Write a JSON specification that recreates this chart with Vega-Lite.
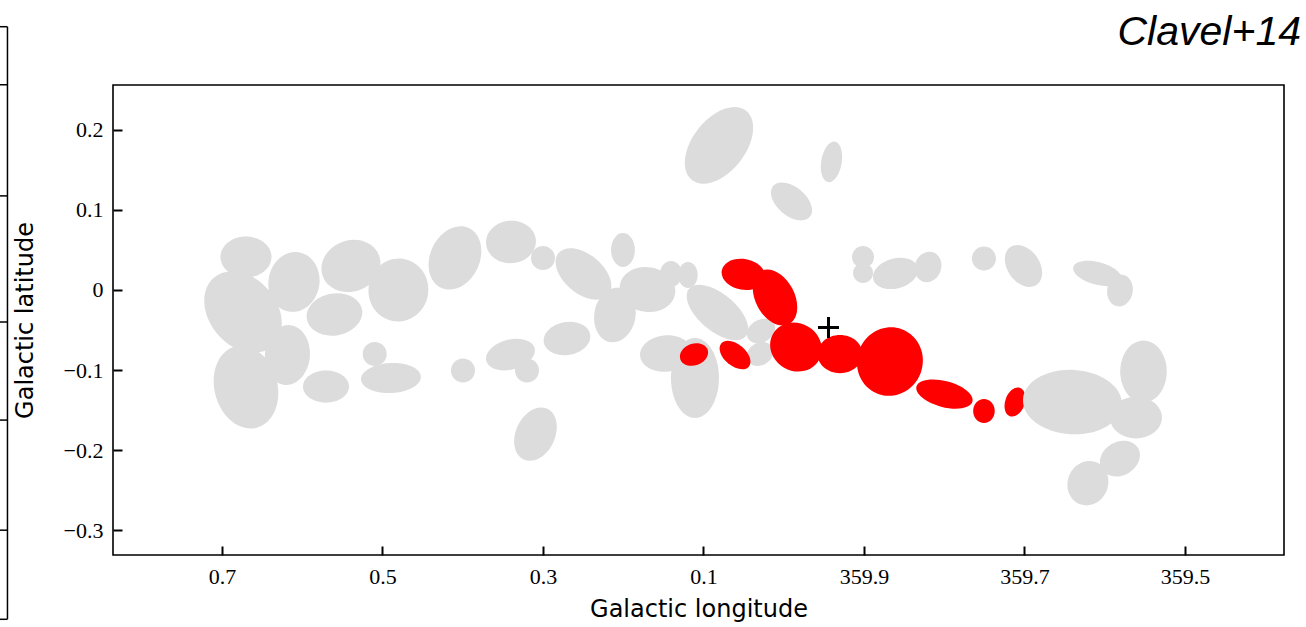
{
  "$schema": "https://vega.github.io/schema/vega-lite/v6.json",
  "width": 1171,
  "height": 470,
  "autosize": "none",
  "padding": {"left": 113, "top": 85, "right": 22, "bottom": 72},
  "background": "white",
  "title": {"text": "Clavel+14", "anchor": "end", "frame": "group", "font": "Liberation Sans", "fontSize": 41, "fontStyle": "italic", "fontWeight": "normal", "color": "black", "baseline": "alphabetic", "offset": -60, "dx": 17},
  "config": {
    "view": {"stroke": "black", "strokeWidth": 1.6},
    "axis": {"domain": false, "grid": false, "tickColor": "black", "tickWidth": 2, "tickSize": -9, "labelColor": "black", "labelFont": "Liberation Serif", "labelFontSize": 22, "titleColor": "black", "titleFont": "DejaVu Sans", "titleFontSize": 24, "titleFontWeight": "normal"}
  },
  "datasets": {
    "grey": [
      {"l": 0.6701, "b": 0.0413, "major": 0.0636, "ratio": 0.8, "tilt": 0},
      {"l": 0.6738, "b": -0.0275, "major": 0.1121, "ratio": 0.75, "tilt": -50},
      {"l": 0.6701, "b": -0.1213, "major": 0.1047, "ratio": 0.75, "tilt": -75},
      {"l": 0.6184, "b": -0.0813, "major": 0.0748, "ratio": 0.75, "tilt": 85},
      {"l": 0.6103, "b": 0.01, "major": 0.0748, "ratio": 0.85, "tilt": 80},
      {"l": 0.5393, "b": 0.03, "major": 0.0748, "ratio": 0.85, "tilt": 20},
      {"l": 0.5598, "b": -0.0306, "major": 0.0698, "ratio": 0.75, "tilt": 10},
      {"l": 0.4801, "b": 0.0, "major": 0.0785, "ratio": 0.95, "tilt": 80},
      {"l": 0.4097, "b": 0.04, "major": 0.0822, "ratio": 0.75, "tilt": 65},
      {"l": 0.3399, "b": 0.06, "major": 0.0623, "ratio": 0.85, "tilt": 5},
      {"l": 0.3, "b": 0.04, "major": 0.0299, "ratio": 1, "tilt": 0},
      {"l": 0.2495, "b": 0.02, "major": 0.081, "ratio": 0.6, "tilt": -40},
      {"l": 0.2003, "b": 0.05, "major": 0.0424, "ratio": 0.7, "tilt": 90},
      {"l": 0.2103, "b": -0.0313, "major": 0.0685, "ratio": 0.75, "tilt": 80},
      {"l": 0.1698, "b": 0.0006, "major": 0.0698, "ratio": 0.8, "tilt": -10},
      {"l": 0.5097, "b": -0.08, "major": 0.0299, "ratio": 1, "tilt": 0},
      {"l": 0.5704, "b": -0.1206, "major": 0.0573, "ratio": 0.7, "tilt": 0},
      {"l": 0.4894, "b": -0.11, "major": 0.0748, "ratio": 0.5, "tilt": 3},
      {"l": 0.3997, "b": -0.1006, "major": 0.0299, "ratio": 1, "tilt": 0},
      {"l": 0.3405, "b": -0.0806, "major": 0.0623, "ratio": 0.6, "tilt": 15},
      {"l": 0.3199, "b": -0.1006, "major": 0.0299, "ratio": 1, "tilt": 0},
      {"l": 0.2701, "b": -0.0606, "major": 0.0586, "ratio": 0.7, "tilt": 10},
      {"l": 0.3093, "b": -0.18, "major": 0.0698, "ratio": 0.7, "tilt": 65},
      {"l": 0.1467, "b": -0.0794, "major": 0.0648, "ratio": 0.7, "tilt": 5},
      {"l": 0.0807, "b": 0.1806, "major": 0.1097, "ratio": 0.6, "tilt": 52},
      {"l": -0.0595, "b": 0.16, "major": 0.0511, "ratio": 0.5, "tilt": 80},
      {"l": -0.0097, "b": 0.1106, "major": 0.0598, "ratio": 0.6, "tilt": -40},
      {"l": 0.1405, "b": 0.02, "major": 0.0324, "ratio": 0.85, "tilt": 90},
      {"l": 0.1193, "b": 0.0188, "major": 0.0324, "ratio": 0.75, "tilt": 90},
      {"l": 0.0826, "b": -0.0281, "major": 0.0922, "ratio": 0.5, "tilt": -40},
      {"l": 0.1106, "b": -0.11, "major": 0.0997, "ratio": 0.6, "tilt": 90},
      {"l": 0.0283, "b": -0.0513, "major": 0.0374, "ratio": 0.75, "tilt": 30},
      {"l": 0.0296, "b": -0.08, "major": 0.0349, "ratio": 0.8, "tilt": 30},
      {"l": -0.0988, "b": 0.0413, "major": 0.0274, "ratio": 1, "tilt": 0},
      {"l": -0.0988, "b": 0.0213, "major": 0.0249, "ratio": 1, "tilt": 0},
      {"l": -0.1393, "b": 0.0206, "major": 0.0573, "ratio": 0.65, "tilt": 15},
      {"l": -0.1798, "b": 0.0288, "major": 0.0386, "ratio": 0.85, "tilt": 70},
      {"l": -0.2495, "b": 0.0394, "major": 0.0299, "ratio": 1, "tilt": 0},
      {"l": -0.2988, "b": 0.03, "major": 0.0573, "ratio": 0.7, "tilt": -55},
      {"l": -0.391, "b": 0.0206, "major": 0.0623, "ratio": 0.45, "tilt": -15},
      {"l": -0.419, "b": -0.0006, "major": 0.0399, "ratio": 0.8, "tilt": 80},
      {"l": -0.3598, "b": -0.14, "major": 0.1234, "ratio": 0.65, "tilt": -3},
      {"l": -0.4483, "b": -0.1019, "major": 0.0773, "ratio": 0.75, "tilt": 90},
      {"l": -0.4389, "b": -0.1594, "major": 0.0648, "ratio": 0.8, "tilt": 0},
      {"l": -0.419, "b": -0.2106, "major": 0.0523, "ratio": 0.8, "tilt": 30},
      {"l": -0.3791, "b": -0.2413, "major": 0.0561, "ratio": 0.9, "tilt": 70}
    ],
    "redBack": [
      {"l": -0.2882, "b": -0.14, "major": 0.0374, "ratio": 0.65, "tilt": 70}
    ],
    "red": [
      {"l": 0.1118, "b": -0.0806, "major": 0.0361, "ratio": 0.75, "tilt": 20},
      {"l": 0.0607, "b": -0.0813, "major": 0.0449, "ratio": 0.6, "tilt": -40},
      {"l": 0.0502, "b": 0.0194, "major": 0.0548, "ratio": 0.7, "tilt": -10},
      {"l": 0.0109, "b": -0.0094, "major": 0.0748, "ratio": 0.65, "tilt": -62},
      {"l": -0.0153, "b": -0.0713, "major": 0.066, "ratio": 0.9, "tilt": -30},
      {"l": -0.0701, "b": -0.08, "major": 0.0561, "ratio": 0.85, "tilt": 0},
      {"l": -0.1324, "b": -0.0894, "major": 0.086, "ratio": 0.95, "tilt": 70},
      {"l": -0.2003, "b": -0.13, "major": 0.0723, "ratio": 0.45, "tilt": -15},
      {"l": -0.2495, "b": -0.1513, "major": 0.0299, "ratio": 0.9, "tilt": 90}
    ],
    "centre": [{"l": -0.0558, "b": -0.0469}],
    "edge": [{"l": 0.9673, "b": 0.3288, "b2": -0.4113}],
    "edgeTicks": [
      {"l": 0.9766, "l2": 0.9673, "b": 0.3288},
      {"l": 0.9766, "l2": 0.9673, "b": 0.2563},
      {"l": 0.9766, "l2": 0.9673, "b": 0.1175},
      {"l": 0.9766, "l2": 0.9673, "b": -0.04},
      {"l": 0.9766, "l2": 0.9673, "b": -0.1625},
      {"l": 0.9766, "l2": 0.9673, "b": -0.3},
      {"l": 0.9766, "l2": 0.9673, "b": -0.4113}
    ]
  },
  "encoding": {
    "x": {"field": "l", "type": "quantitative", "title": "Galactic longitude",
      "scale": {"domain": [-0.6234, 0.8358], "reverse": true, "nice": false, "zero": false},
      "axis": {"values": [0.7, 0.5, 0.3, 0.1, -0.1, -0.3, -0.5], "labelExpr": "datum.value < 0 ? format(datum.value + 360, '.1f') : format(datum.value, '.1f')", "labelPadding": 20, "titlePadding": 10}},
    "y": {"field": "b", "type": "quantitative", "title": "Galactic latitude",
      "scale": {"domain": [-0.331, 0.256], "nice": false, "zero": false},
      "axis": {"values": [0.2, 0.1, 0, -0.1, -0.2, -0.3], "format": ".1~f", "labelPadding": 19, "titlePadding": 26}}
  },
  "layer": [
    {
      "data": {"name": "redBack"},
      "mark": {"type": "point", "filled": true, "color": "#fe0000", "opacity": 1, "strokeWidth": 0},
      "encoding": {
        "shape": {"field": "ratio", "type": "nominal", "legend": null, "scale": {"domain": [0.45, 0.5, 0.6, 0.65, 0.7, 0.75, 0.8, 0.85, 0.9, 0.95, 1], "range": [
          "M1,0C1,0.2485 0.5523,0.45 0,0.45C-0.5523,0.45 -1,0.2485 -1,0C-1,-0.2485 -0.5523,-0.45 0,-0.45C0.5523,-0.45 1,-0.2485 1,0Z",
          "M1,0C1,0.2762 0.5523,0.5 0,0.5C-0.5523,0.5 -1,0.2762 -1,0C-1,-0.2762 -0.5523,-0.5 0,-0.5C0.5523,-0.5 1,-0.2762 1,0Z",
          "M1,0C1,0.3314 0.5523,0.6 0,0.6C-0.5523,0.6 -1,0.3314 -1,0C-1,-0.3314 -0.5523,-0.6 0,-0.6C0.5523,-0.6 1,-0.3314 1,0Z",
          "M1,0C1,0.359 0.5523,0.65 0,0.65C-0.5523,0.65 -1,0.359 -1,0C-1,-0.359 -0.5523,-0.65 0,-0.65C0.5523,-0.65 1,-0.359 1,0Z",
          "M1,0C1,0.3866 0.5523,0.7 0,0.7C-0.5523,0.7 -1,0.3866 -1,0C-1,-0.3866 -0.5523,-0.7 0,-0.7C0.5523,-0.7 1,-0.3866 1,0Z",
          "M1,0C1,0.4142 0.5523,0.75 0,0.75C-0.5523,0.75 -1,0.4142 -1,0C-1,-0.4142 -0.5523,-0.75 0,-0.75C0.5523,-0.75 1,-0.4142 1,0Z",
          "M1,0C1,0.4418 0.5523,0.8 0,0.8C-0.5523,0.8 -1,0.4418 -1,0C-1,-0.4418 -0.5523,-0.8 0,-0.8C0.5523,-0.8 1,-0.4418 1,0Z",
          "M1,0C1,0.4695 0.5523,0.85 0,0.85C-0.5523,0.85 -1,0.4695 -1,0C-1,-0.4695 -0.5523,-0.85 0,-0.85C0.5523,-0.85 1,-0.4695 1,0Z",
          "M1,0C1,0.4971 0.5523,0.9 0,0.9C-0.5523,0.9 -1,0.4971 -1,0C-1,-0.4971 -0.5523,-0.9 0,-0.9C0.5523,-0.9 1,-0.4971 1,0Z",
          "M1,0C1,0.5247 0.5523,0.95 0,0.95C-0.5523,0.95 -1,0.5247 -1,0C-1,-0.5247 -0.5523,-0.95 0,-0.95C0.5523,-0.95 1,-0.5247 1,0Z",
          "M1,0C1,0.5523 0.5523,1 0,1C-0.5523,1 -1,0.5523 -1,0C-1,-0.5523 -0.5523,-1 0,-1C0.5523,-1 1,-0.5523 1,0Z"
        ]}},
        "size": {"field": "major", "type": "quantitative", "legend": null, "scale": {"type": "pow", "exponent": 2, "domain": [0, 0.1], "range": [0, 6440], "zero": true, "nice": false}},
        "angle": {"field": "tilt", "type": "quantitative", "legend": null, "scale": {"domain": [-90, 90], "range": [90, -90]}}
      }
    },
    {
      "data": {"name": "grey"},
      "mark": {"type": "point", "filled": true, "color": "#dcdcdc", "opacity": 1, "strokeWidth": 0},
      "encoding": {
        "shape": {"field": "ratio", "type": "nominal", "legend": null},
        "size": {"field": "major", "type": "quantitative", "legend": null},
        "angle": {"field": "tilt", "type": "quantitative", "legend": null}
      }
    },
    {
      "data": {"name": "red"},
      "mark": {"type": "point", "filled": true, "color": "#fe0000", "opacity": 1, "strokeWidth": 0},
      "encoding": {
        "shape": {"field": "ratio", "type": "nominal", "legend": null},
        "size": {"field": "major", "type": "quantitative", "legend": null},
        "angle": {"field": "tilt", "type": "quantitative", "legend": null}
      }
    },
    {
      "data": {"name": "centre"},
      "mark": {"type": "point", "shape": "M-1,0L1,0M0,-1L0,1", "filled": false, "stroke": "black", "strokeWidth": 3, "size": 441, "opacity": 1},
      "encoding": {}
    },
    {
      "data": {"name": "edge"},
      "mark": {"type": "rule", "color": "black", "strokeWidth": 1.5},
      "encoding": {"y2": {"field": "b2"}}
    },
    {
      "data": {"name": "edgeTicks"},
      "mark": {"type": "rule", "color": "black", "strokeWidth": 1.5},
      "encoding": {"x2": {"field": "l2"}}
    }
  ]
}
